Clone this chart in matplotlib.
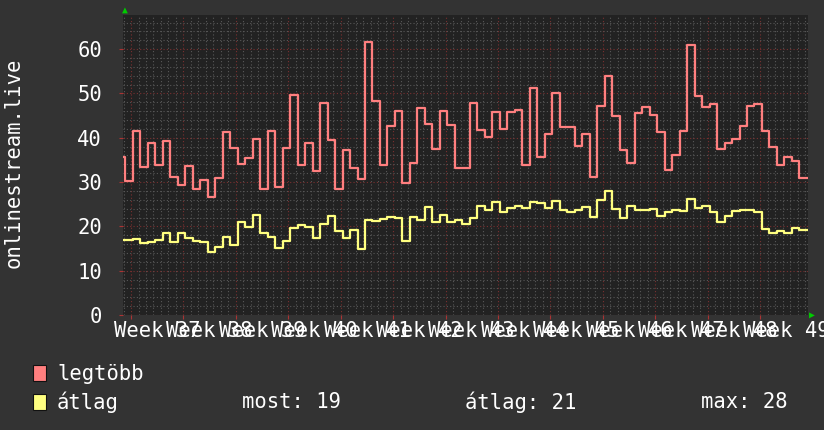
import numpy as np
import matplotlib
matplotlib.use("Agg")
import matplotlib.pyplot as plt
from matplotlib.transforms import blended_transform_factory

# daily values (one step per day)
legtobb = [35.6,  # partial day hidden behind the axis
           30.2, 41.5, 33.3, 38.8, 33.8, 39.2, 31.1, 29.3, 33.6, 28.4,
           30.4, 26.6, 31.0, 41.3, 37.6, 34.1, 35.5, 39.7, 28.4, 41.5,
           28.9, 37.7, 49.6, 33.9, 38.9, 32.5, 47.8, 39.5, 28.4, 37.3,
           33.2, 30.7, 61.5, 48.3, 33.9, 42.7, 46.0, 29.7, 34.4, 46.8,
           43.1, 37.4, 46.0, 42.9, 33.2, 33.2, 47.8, 41.8, 40.2, 45.8,
           42.0, 45.8, 46.3, 33.9, 51.3, 35.6, 40.9, 50.2, 42.5, 42.5,
           38.2, 40.8, 31.1, 47.1, 54.0, 45.0, 37.3, 34.3, 45.6, 47.0,
           45.1, 41.3, 32.7, 36.2, 41.5, 60.9, 49.4, 47.0, 47.6, 37.4,
           38.8, 39.7, 42.7, 47.1, 47.6, 41.5, 37.9, 33.9, 35.6, 34.7,
           30.9]
atlag = [17.0,
         16.9, 17.1, 16.3, 16.5, 16.9, 18.6, 16.5, 18.6, 17.4, 16.8,
         16.5, 14.3, 15.3, 17.7, 15.9, 20.9, 19.8, 22.6, 18.6, 17.5,
         15.2, 16.6, 19.7, 20.3, 19.9, 17.4, 20.6, 22.4, 19.0, 17.4,
         19.1, 14.9, 21.5, 21.3, 21.7, 22.1, 21.9, 16.8, 22.1, 21.5,
         24.3, 21.0, 22.6, 21.0, 21.4, 20.6, 21.9, 24.7, 23.6, 25.6,
         23.3, 24.1, 24.6, 24.1, 25.6, 25.3, 24.2, 25.7, 23.6, 23.3,
         23.8, 24.4, 22.1, 26.0, 28.0, 23.9, 22.0, 24.6, 23.6, 23.8,
         24.0, 22.4, 23.3, 23.7, 23.5, 26.2, 24.2, 24.7, 23.3, 21.0,
         22.4, 23.5, 23.7, 23.7, 23.3, 19.4, 18.6, 19.0, 18.4, 19.6,
         19.2]
weeks = list(range(37, 50))
stats = {"most": 19, "átlag": 21, "max": 28}

BG = "#333333"
PLOT_BG = "#222222"
RED = "#ff7f7f"
YEL = "#ffff80"
FONT = "DejaVu Sans Mono"
FS = 14.8

plt.rcParams["font.family"] = FONT

fig = plt.figure(figsize=(8.24, 4.30), dpi=100, facecolor=BG)
ax = fig.add_axes([123 / 824, 1 - 315 / 430, 685 / 824, 300 / 430])
ax.set_facecolor(PLOT_BG)

day_px = 7.49
xmax = 685 / day_px
first_edge = 0.31 - 1          # edge of the hidden partial day
week0 = 1.07                   # first week boundary (days)

x = first_edge + np.arange(len(legtobb) + 1)
ax.plot(x, legtobb + legtobb[-1:], drawstyle="steps-post", color=RED, lw=1.6, zorder=3)
ax.plot(x, atlag + atlag[-1:], drawstyle="steps-post", color=YEL, lw=1.6, zorder=3)

ax.set_xlim(0, xmax)
ax.set_ylim(0, 67.7)

# grid
ax.set_xticks([week0 + 7 * i for i in range(len(weeks))])
ax.set_xticks(np.arange(week0 % 1, xmax, 1), minor=True)
ax.set_yticks(range(0, 61, 10))
ax.set_yticks(range(0, 68, 2), minor=True)
ax.grid(which="minor", color="#585858", ls=(0, (1, 2)), lw=0.8, zorder=1)
ax.grid(which="major", color="#7a3030", ls=(0, (1, 2)), lw=0.8, zorder=2)
ax.tick_params(axis="x", which="major", length=3, color="#aa3333", labelbottom=False)
ax.tick_params(axis="x", which="minor", length=0)
ax.tick_params(axis="y", which="major", length=3, color="#aa3333", labelcolor="white",
               labelsize=FS, pad=12)
ax.tick_params(axis="y", which="minor", length=0)
for s in ax.spines.values():
    s.set_visible(False)

# week labels centred in the middle of each week
tr = blended_transform_factory(ax.transData, fig.transFigure)
for i, w in enumerate(weeks):
    ax.text(week0 + 7 * i + 3.5, 1 - 331 / 430, f"Week {w}", transform=tr,
            ha="center", va="center", color="white", fontsize=FS, clip_on=False)

# axis arrows
fig.text(125 / 824, 1 - 10 / 430, "▲", color="#00cc00", fontsize=7, ha="center", va="center")
fig.text(812 / 824, 1 - 315 / 430, "▶", color="#00cc00", fontsize=7, ha="center", va="center")

fig.text(14 / 824, 1 - 163 / 430, "onlinestream.live", rotation=90, color="white",
         fontsize=FS, ha="center", va="center")

# legend
for yc, col in [(373, RED), (402, YEL)]:
    fig.patches.append(plt.Rectangle((33 / 824, 1 - (yc + 8) / 430), 13 / 824, 16 / 430,
                                     transform=fig.transFigure, facecolor=col,
                                     edgecolor="#111111", lw=0.8))
fig.text(57 / 824, 1 - 374 / 430, "legtöbb", color="white", fontsize=FS, va="center")
fig.text(57 / 824, 1 - 402 / 430, "átlag", color="white", fontsize=FS, va="center")
for xs, (k, v) in zip([242, 465, 701], stats.items()):
    fig.text(xs / 824, 1 - 402 / 430, f"{k}: {v}", color="white", fontsize=FS, va="center")

fig.savefig("out.png", dpi=100, facecolor=BG)
